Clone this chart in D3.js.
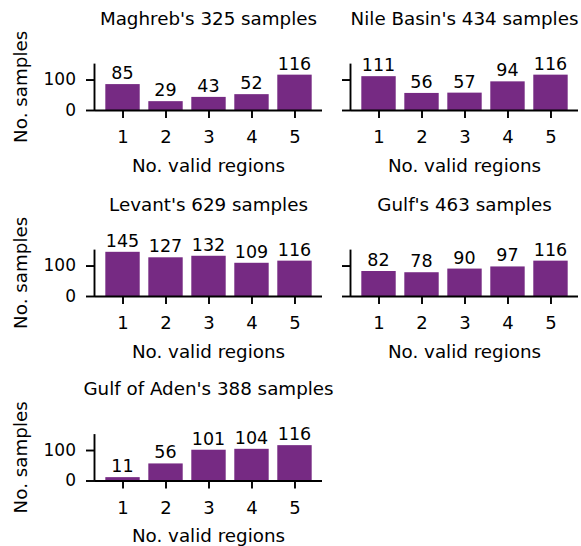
<!DOCTYPE html>
<html>
<head>
<meta charset="utf-8">
<script src="https://cdn.jsdelivr.net/npm/d3@7"></script>
<style>
    body { margin: 0; background: #fff; }
    text { font-family: "DejaVu Sans", sans-serif; fill: #000; }
</style>
</head>
<body>
<div id="chart"></div>
<script>
// data
const regionNames = ["Maghreb", "Nile Basin", "Levant", "Gulf", "Gulf of Aden"];
const regionTotals = [325, 434, 629, 463, 388];
const validRegions = [1, 2, 3, 4, 5];
const maghrebCounts = [85, 29, 43, 52, 116];
const nileCounts = [111, 56, 57, 94, 116];
const levantCounts = [145, 127, 132, 109, 116];
const gulfCounts = [82, 78, 90, 97, 116];
const adenCounts = [11, 56, 101, 104, 116];
const yTicks = [0, 100];

const seriesCounts = [maghrebCounts, nileCounts, levantCounts, gulfCounts, adenCounts];

const config = {
    width: 581,
    height: 546,
    colLeft: [95, 351],
    rowBottom: [110, 296, 480.5],
    axWidth: 227,
    axHeight: 46.4,
    barColor: "#762a83"
};

const svg = d3.select("#chart")
    .append("svg")
    .attr("width", config.width)
    .attr("height", config.height);

// shared y limit like sharey, 5% headroom over the tallest bar
const yMax = d3.max(seriesCounts, s => d3.max(s)) * 1.05;

regionNames.forEach((name, i) => {
    const col = i % 2;
    const row = Math.floor(i / 2);
    const left = config.colLeft[col];
    const top = config.rowBottom[row] - config.axHeight;
    const data = validRegions.map((r, j) => ({region: r, value: seriesCounts[i][j]}));

    const g = svg.append("g")
        .attr("transform", `translate(${left},${top})`);

    const x = d3.scaleLinear()
        .domain([0.36, 5.64])
        .range([0, config.axWidth]);

    const y = d3.scaleLinear()
        .domain([0, yMax])
        .range([config.axHeight, 0]);

    // Bars
    g.selectAll(".bar")
        .data(data)
        .enter()
        .append("rect")
        .attr("class", "bar")
        .attr("x", d => x(d.region - 0.4))
        .attr("y", d => y(d.value))
        .attr("width", x(1.4) - x(0.6))
        .attr("height", d => y(0) - y(d.value))
        .attr("fill", config.barColor);

    // bar labels
    g.selectAll(".bar-label")
        .data(data)
        .enter()
        .append("text")
        .attr("class", "bar-label")
        .attr("x", d => x(d.region))
        .attr("y", d => y(d.value) - 5)
        .attr("text-anchor", "middle")
        .style("font-size", "17.5px")
        .text(d => d.value);

    // X axis
    const xAxis = g.append("g")
        .attr("transform", `translate(0,${config.axHeight})`)
        .call(d3.axisBottom(x).tickValues(validRegions).tickSize(8).tickPadding(12.7).tickFormat(d3.format("d")));

    // Y axis
    const yAxis = g.append("g")
        .call(d3.axisLeft(y).tickValues(yTicks).tickSize(9).tickPadding(10)
            .tickFormat(col === 0 ? d3.format("d") : () => ""));

    [xAxis, yAxis].forEach(ax => {
        ax.select(".domain").attr("stroke", "#000").attr("stroke-width", 1.9);
        ax.selectAll(".tick line").attr("stroke", "#000").attr("stroke-width", 1.9);
        ax.selectAll(".tick text").attr("fill", "#000");
        ax.attr("font-family", null).attr("font-size", null);
    });
    xAxis.selectAll(".tick text").style("font-size", "18px");
    yAxis.selectAll(".tick text").style("font-size", "17px");
    // plain spines, no end caps
    xAxis.select(".domain").attr("d", `M${x.range()[0]},0.5H${x.range()[1]}`);
    yAxis.select(".domain").attr("d", `M-0.5,${config.axHeight}V0`);

    // title
    g.append("text")
        .attr("x", config.axWidth / 2)
        .attr("y", -39)
        .attr("text-anchor", "middle")
        .style("font-size", "18.3px")
        .text(`${name}'s ${regionTotals[i]} samples`);

    // x label
    g.append("text")
        .attr("x", config.axWidth / 2)
        .attr("y", config.axHeight + 62)
        .attr("text-anchor", "middle")
        .style("font-size", "18.3px")
        .text("No. valid regions");

    // y label only on left column
    if (col === 0) {
        g.append("text")
            .attr("transform", `translate(${27 - left},${config.axHeight / 2}) rotate(-90)`)
            .attr("text-anchor", "middle")
            .style("font-size", "18.3px")
            .text("No. samples");
    }
});
</script>
</body>
</html>
